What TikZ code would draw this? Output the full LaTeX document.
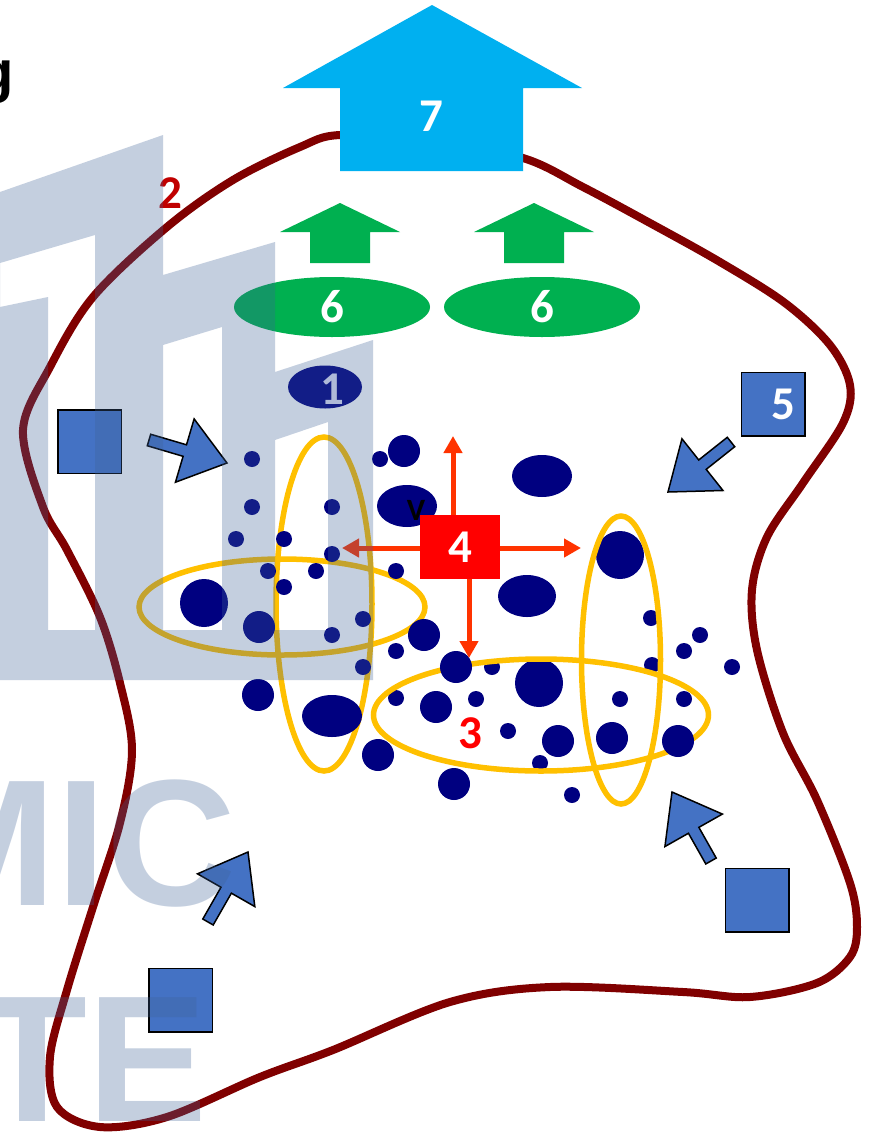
\documentclass[tikz,border=0pt]{standalone}
\usepackage{fontspec}
\setmainfont{Carlito}
\newfontfamily\wmfont{Liberation Sans}
\usetikzlibrary{calc,arrows.meta,shapes.geometric}

\definecolor{cellred}{RGB}{128,0,0}
\definecolor{labred}{RGB}{192,0,0}
\definecolor{skyblue}{RGB}{0,176,240}
\definecolor{leafgreen}{RGB}{0,176,80}
\definecolor{navy}{RGB}{0,0,128}
\definecolor{amber}{RGB}{255,192,0}
\definecolor{boxblue}{RGB}{68,114,196}
\definecolor{flare}{RGB}{255,51,0}
\definecolor{pale}{RGB}{225,225,245}
\definecolor{wmblue}{RGB}{62,98,152}

% block arrow from tail #1 to tip #2
\newcommand\pusharrow[2]{%
  \coordinate (ba) at (#1);
  \coordinate (bb) at (#2);
  \coordinate (bs) at ($(bb)!44pt!(ba)$);
  \draw[bluearrow] ($(ba)!6pt!90:(bb)$) -- ($(bs)!6pt!-90:(ba)$) -- ($(bs)!33pt!-90:(ba)$)
    -- (bb) -- ($(bs)!33pt!90:(ba)$) -- ($(bs)!6pt!90:(ba)$) -- ($(ba)!6pt!-90:(bb)$) -- cycle;
}

\begin{document}
\begin{tikzpicture}[x=1pt,y=-1pt,
  num/.style={font=\fontsize{47}{47}\selectfont\bfseries, inner sep=0pt, text=white},
  membrane/.style={draw=cellred, line width=8pt},
  ring/.style={draw=amber, line width=5.5pt},
  flow/.style={draw=flare, line width=5pt, -{Triangle[length=17pt,width=18pt]}},
  bluearrow/.style={fill=boxblue, draw=black, line width=1.5pt, line join=miter},
  sq/.style={rectangle, fill=boxblue, draw=black, line width=1.5pt, minimum size=63.5pt, inner sep=0pt},
  blob/.style={ellipse, fill=navy, inner sep=0pt},
  pad/.style={ellipse, fill=leafgreen, minimum width=196pt, minimum height=60pt, inner sep=0pt},
  wmark/.style={fill=wmblue, fill opacity=0.3, text opacity=0.3, text=wmblue}]

\fill[white] (0,0) rectangle (869,1133);
\useasboundingbox (0,0) rectangle (869,1133);
\clip (0,0) rectangle (869,1133);

% cell outline
\draw[membrane] plot[smooth cycle, tension=0.55] coordinates {
  (430,140) (523,158) (583,187) (650,223) (720,262) (785,303) (830,345)
  (850,385) (843,423) (803,483) (767,537) (752,590) (757,650) (783,733)
  (817,800) (850,883) (857,927) (850,957) (817,983) (750,997) (683,992)
  (550,987) (450,1002) (333,1050) (260,1077) (167,1117) (100,1127)
  (57,1107) (50,1057) (67,990) (93,907) (120,823) (132,750) (120,683)
  (100,617) (67,550) (43,507) (23,430) (50,367) (93,297) (167,227)
  (233,180) (300,147) (340,135)};
\node[font=\fontsize{47}{47}\selectfont\bfseries, text=labred, inner sep=0pt] (lab2) at (170,193) {2};

% output arrow
\fill[skyblue] (432,5) -- (582,88) -- (523,88) -- (523,171) -- (340,171) -- (340,88) -- (283,88) -- cycle;
\node[num] (out7) at (431,116) {7};

% green arrows and pads
\fill[leafgreen] (340,203) -- (400,232) -- (370,232) -- (370,263) -- (310,263) -- (310,232) -- (280,232) -- cycle;
\fill[leafgreen] (534,203) -- (594,232) -- (564,232) -- (564,263) -- (504,263) -- (504,232) -- (474,232) -- cycle;
\node[pad, num] (pada) at (332,307) {6};
\node[pad, num] (padb) at (542,307) {6};

% nucleus label
\node[blob, minimum width=74pt, minimum height=43pt] (one) at (325,387) {};
\node[num, text=pale] (onelab) at (332,389) {1};

% rings behind the particles
\draw[ring] (282,607) ellipse [x radius=143pt, y radius=48pt];
\draw[ring] (324,604) ellipse [x radius=48pt, y radius=167pt];

% particles
\foreach \x/\y/\r in {252/459/8, 252/507/8, 236/539/8, 284/539/8, 332/507/8, 332/554/8,
  268/571/8, 316/571/8, 284/587/8, 204/603/24, 259/627/16, 332/635/8, 363/619/8,
  363/667/8, 396/571/8, 396/651/8, 396/698/8, 424/635/16, 436/707/16, 258/695/16,
  378/755/16, 380/459/8, 404/451/16, 492/667/8, 539/683/24, 620/555/24,
  651/618/8, 700/635/8, 684/651/8, 732/667/8, 652/665/8, 476/699/8, 620/699/8,
  684/699/8, 508/731/8, 558/741/16, 612/738/16, 540/763/8, 454/784/16, 572/795/8}
  \fill[navy] (\x,\y) circle (\r pt);
\node[blob, minimum width=60pt, minimum height=42pt] (blobv) at (407,506) {};
\node[blob, minimum width=60pt, minimum height=42pt] (blobn) at (542,476) {};
\node[blob, minimum width=58pt, minimum height=42pt] (blobs) at (527,596) {};
\node[blob, minimum width=60pt, minimum height=42pt] (blobw) at (332,716) {};

% rings in front
\draw[ring] (541,715) ellipse [x radius=167.5pt, y radius=56pt];
\draw[ring] (621,660) ellipse [x radius=39.5pt, y radius=144pt];
\fill[navy] (456,667) circle (16pt);
\fill[navy] (678,741) circle (16pt);
\node[font=\fontsize{47}{47}\selectfont\bfseries, text=red, inner sep=0pt] (lab3) at (470,733) {3};

% central signal with its four directions
\node[rectangle, fill=red, minimum width=80pt, minimum height=64pt, inner sep=0pt, num] (core) at (460,547) {4};
\coordinate (fu) at (453,436);
\coordinate (fr) at (581,548);
\coordinate (fd) at (469,658);
\coordinate (fl) at (342,548);
\draw[flow] (core.north -| fu) -- (fu);
\draw[flow] (core.east |- fr) -- (fr);
\draw[flow] (core.south -| fd) -- (fd);
\draw[flow] (core.west |- fl) -- (fl);
\node[font=\fontsize{31}{31}\selectfont\bfseries, inner sep=0pt] (labv) at (416,510) {V};

% external squares and their push arrows
\node[sq] (sqa) at (89.5,441.5) {};
\node[sq] (sqb) at (773,404) {};
\node[num] (lab5) at (783,404) {5};
\node[sq] (sqc) at (757,900) {};
\node[sq] (sqd) at (180.5,1000) {};
\pusharrow{149,440}{227,463}
\pusharrow{731,442}{668,492}
\pusharrow{208,922}{248,852}
\pusharrow{711,861}{672,792}

% watermark
\fill[wmark, even odd rule]
  (0,192) -- (163,135) -- (163,275) -- (275,242) -- (275,372) -- (373,340) -- (373,680) -- (0,680) -- cycle
  (0,263) -- (95,235) -- (95,630) -- (48,630) -- (48,297) -- (0,307) -- cycle
  (163,345) -- (222,327) -- (222,630) -- (163,630) -- cycle
  (275,440) -- (328,422) -- (328,630) -- (275,630) -- cycle;
\node[wmark, fill=none, font=\wmfont\bfseries\fontsize{180}{180}\selectfont, anchor=base west, inner sep=0pt] (wma) at (-94,905) {MIC};
\node[wmark, fill=none, font=\wmfont\bfseries\fontsize{180}{180}\selectfont, anchor=base west, inner sep=0pt] (wmb) at (-23,1121) {TE};

\node[font=\wmfont\bfseries\fontsize{58}{58}\selectfont, anchor=base east, inner sep=0pt] (gtail) at (14,91) {g};
\end{tikzpicture}
\end{document}
